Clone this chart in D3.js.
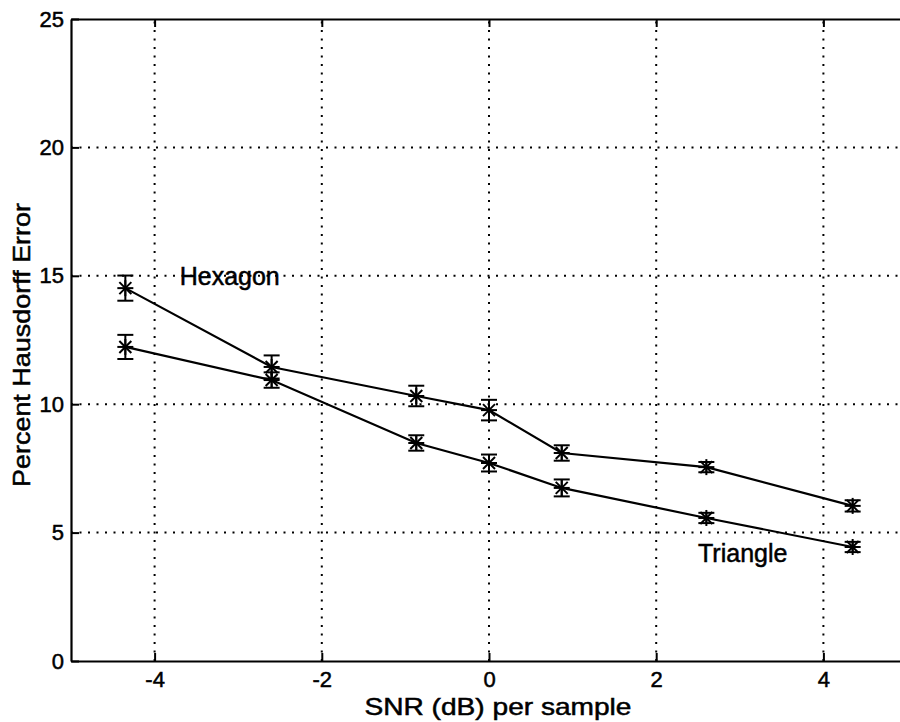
<!DOCTYPE html>
<html><head><meta charset="utf-8">
<script src="https://cdn.jsdelivr.net/npm/d3@7"></script>
<style>body{margin:0;background:#fff}svg{display:block}text{font-family:"Liberation Sans",Arial,Helvetica,sans-serif;fill:#000}</style>
</head><body>
<svg id="c" width="900" height="722"></svg>
<script>
const snr = [-4.35, -2.6, -0.87, 0, 0.87, 2.6, 4.35];
const hexagon = [14.52, 11.45, 10.32, 9.77, 8.1, 7.55, 6.04];
const hexagonErr = [0.49, 0.45, 0.4, 0.4, 0.3, 0.2, 0.22];
const triangle = [12.23, 10.94, 8.49, 7.71, 6.74, 5.57, 4.44];
const triangleErr = [0.47, 0.3, 0.3, 0.33, 0.33, 0.2, 0.2];
const xTicks = [-4, -2, 0, 2, 4];
const yTicks = [0, 5, 10, 15, 20, 25];
const seriesLabels = [{name:"Hexagon", x:-3.7, y:14.64}, {name:"Triangle", x:2.5, y:3.86}];

const svg = d3.select("#c");
const L = 71, R = 907, T = 19, B = 661;
const x = d3.scaleLinear().domain([-5, 5]).range([L, R]);
const y = d3.scaleLinear().domain([0, 25]).range([B, T]);

// grid
const g = svg.append("g");
g.selectAll(".gx").data(xTicks).join("line")
  .attr("x1", d => x(d)).attr("x2", d => x(d)).attr("y1", B).attr("y2", T)
  .attr("stroke", "#000").attr("stroke-width", 2).attr("stroke-dasharray", "2,6.5");
g.selectAll(".gy").data(yTicks.filter(d => d > 0 && d < 25)).join("line")
  .attr("x1", L).attr("x2", R).attr("y1", d => y(d)).attr("y2", d => y(d))
  .attr("stroke", "#000").attr("stroke-width", 2).attr("stroke-dasharray", "2,6.5");

// axes
const fmt = d => String(d);
const ax = svg.append("g").attr("transform", `translate(0,${B})`)
  .call(d3.axisBottom(x).tickValues(xTicks).tickFormat(fmt).tickSizeInner(-8).tickSizeOuter(0));
const axTop = svg.append("g").attr("transform", `translate(0,${T})`)
  .call(d3.axisTop(x).tickValues(xTicks).tickSizeInner(-8).tickSizeOuter(0).tickFormat(""));
const ay = svg.append("g").attr("transform", `translate(${L},0)`)
  .call(d3.axisLeft(y).tickValues(yTicks).tickFormat(fmt).tickSizeInner(-8).tickSizeOuter(0));
[ax, axTop, ay].forEach(a => {
  a.select(".domain").attr("stroke-width", 2.2);
  a.selectAll(".tick line").attr("stroke-width", 2);
  a.selectAll("text").attr("font-size", 22).attr("font-family", '"Liberation Sans",Arial,sans-serif')
    .attr("stroke", "#000").attr("stroke-width", 0.5);
});
ax.selectAll("text").attr("dy", "0.71em").attr("y", 10);
ay.selectAll("text").attr("x", -7);

// series
const line = d3.line().x(d => x(d[0])).y(d => y(d[1]));
function drawSeries(vals, errs) {
  const pts = snr.map((s, i) => [s, vals[i], errs[i]]);
  svg.append("path").datum(pts).attr("d", line).attr("fill", "none")
    .attr("stroke", "#000").attr("stroke-width", 2.2);
  const eb = svg.append("g").attr("stroke", "#000").attr("stroke-width", 2);
  pts.forEach(p => {
    const cx = x(p[0]), y1 = y(p[1] + p[2]), y2 = y(p[1] - p[2]);
    eb.append("line").attr("x1", cx).attr("x2", cx).attr("y1", y1).attr("y2", y2);
    eb.append("line").attr("x1", cx - 8).attr("x2", cx + 8).attr("y1", y1).attr("y2", y1);
    eb.append("line").attr("x1", cx - 8).attr("x2", cx + 8).attr("y1", y2).attr("y2", y2);
    const cy = y(p[1]), s = 8, d = 6;
    eb.append("line").attr("x1", cx).attr("x2", cx).attr("y1", cy - s).attr("y2", cy + s);
    eb.append("line").attr("x1", cx - s).attr("x2", cx + s).attr("y1", cy).attr("y2", cy);
    eb.append("line").attr("x1", cx - d).attr("x2", cx + d).attr("y1", cy - d).attr("y2", cy + d);
    eb.append("line").attr("x1", cx - d).attr("x2", cx + d).attr("y1", cy + d).attr("y2", cy - d);
  });
}
drawSeries(hexagon, hexagonErr);
drawSeries(triangle, triangleErr);

svg.selectAll(".slab").data(seriesLabels).join("text")
  .attr("x", d => x(d.x)).attr("y", d => y(d.y))
  .attr("font-size", 25).attr("stroke", "#000").attr("stroke-width", 0.5).text(d => d.name);

// axis titles
svg.append("text").attr("x", 498).attr("y", 715).attr("text-anchor", "middle")
  .attr("font-size", 24).attr("textLength", 267).attr("lengthAdjust", "spacingAndGlyphs")
  .attr("stroke", "#000").attr("stroke-width", 0.5)
  .text("SNR (dB) per sample");
svg.append("text").attr("transform", "translate(30,345) rotate(-90)").attr("text-anchor", "middle")
  .attr("font-size", 24).attr("textLength", 284).attr("lengthAdjust", "spacingAndGlyphs")
  .attr("stroke", "#000").attr("stroke-width", 0.5)
  .text("Percent Hausdorff Error");
</script>
</body></html>
